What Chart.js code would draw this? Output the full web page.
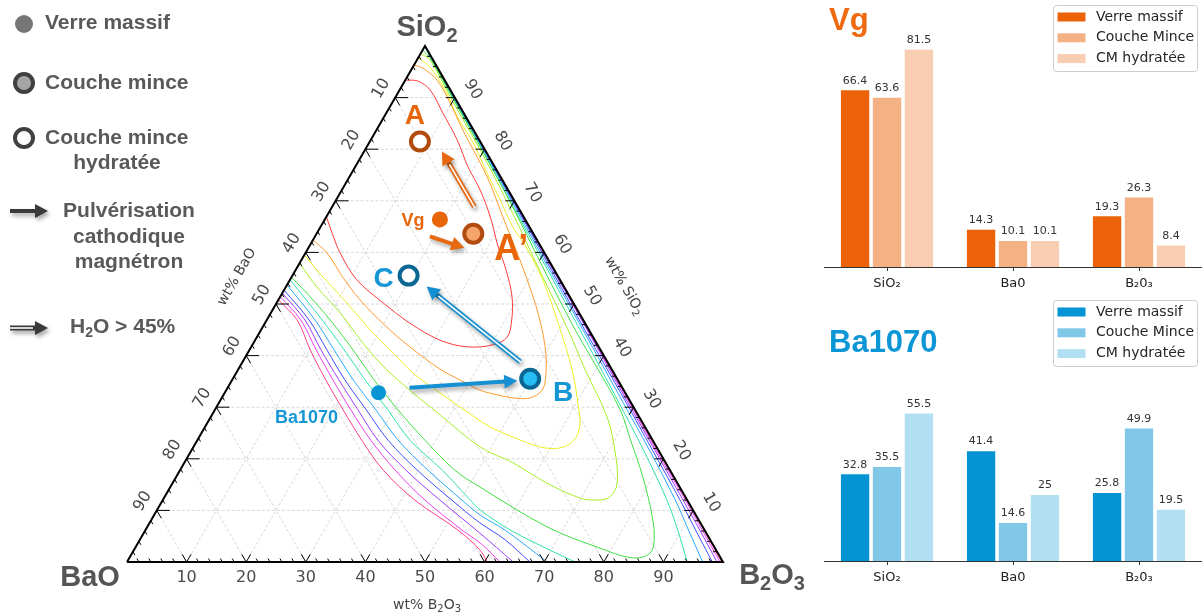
<!DOCTYPE html>
<html>
<head>
<meta charset="utf-8">
<title>Vg / Ba1070</title>
<script src="https://cdn.jsdelivr.net/npm/chart.js@4.4.1/dist/chart.umd.min.js"></script>
<style>
  html, body { margin: 0; padding: 0; background: #fff; }
  body { width: 1202px; height: 616px; position: relative; overflow: hidden; }
  canvas { position: absolute; }
  #ternary { left: 0; top: 0; }
  #barVg { left: 820px; top: 0; }
  #barBa { left: 820px; top: 300px; }
</style>
</head>
<body>
<canvas id="ternary" width="820" height="616"></canvas>
<canvas id="barVg" width="382" height="300"></canvas>
<canvas id="barBa" width="382" height="316"></canvas>
<script>
// ---- bar data (wt%) : SiO2, BaO, B2O3
const oxides = ['SiO₂', 'Ba0', 'B₂0₃'];
const seriesNames = ['Verre massif', 'Couche Mince', 'CM hydratée'];
const vgMassif = [66.4, 14.3, 19.3];
const vgMince = [63.6, 10.1, 26.3];
const vgHydr = [81.5, 10.1, 8.4];
const baMassif = [32.8, 41.4, 25.8];
const baMince = [35.5, 14.6, 49.9];
const baHydr = [55.5, 25, 19.5];

// ---- ternary ticks
const ternTicks = [10, 20, 30, 40, 50, 60, 70, 80, 90];

// ---- contour lines as [wt% B2O3, wt% SiO2]
const contourRed = [[0,93.4],[2.2,93.2],[5.1,91.5],[9.5,87],[14.5,81.8],[18.9,76.6],[23.2,72.1],[27.5,66.9],[31.5,61.4],[35.3,56.6],[38.9,51.4],[41.1,46.9],[42,43.6],[40.4,42.1],[36.2,41.7],[31,43],[24.3,46.3],[17.9,50.2],[11.2,54.7],[5.8,59.9],[2.5,63.8],[0,66.9]];
const contourOrange = [[0,96.3],[1.8,95.7],[5.3,93.4],[9.7,89],[14.5,83.7],[19.5,78.5],[24.2,73.4],[29.6,66.9],[34.6,61],[39.8,54.7],[44.8,48.3],[49.3,41.7],[52,36.6],[53,33.3],[51.7,31.8],[48.9,31.8],[45.9,32.4],[42.6,33.3],[38.2,35.3],[33.8,37.4],[26.6,41.7],[20.3,45.9],[13.7,50.8],[8.6,55.2],[3.6,59.9],[0,62.4]];
const contourYellow = [[0,97.7],[2.9,95.9],[7.6,91.5],[12.4,86.2],[17.5,81.2],[22.7,75.4],[27.5,70.2],[32.3,64.9],[36.1,61.4],[42.4,54.7],[50.2,45],[56.1,37.2],[60.5,30.4],[62.7,26.6],[63.2,23.6],[61.6,22.1],[58.2,22.3],[52.7,24.2],[47.8,26.2],[42.5,29.1],[36.1,32.8],[29.7,36.6],[24.4,40.5],[18.3,45],[11.8,50.2],[5.3,55.2],[0,59.5]];
const contourLime = [[0,98.5],[2.2,97.3],[9.8,89.5],[19.4,79.8],[28.5,70.2],[40.9,56.6],[51.5,45],[58.3,37.2],[66.5,28.1],[71,21.7],[74.6,15.3],[74.7,12.6],[72.9,12],[69.8,12.4],[62.8,15.3],[55.2,19.2],[48.1,22.3],[38.3,28.5],[30.8,33.3],[24.5,37.6],[18.4,42.4],[11.6,48.3],[5.2,53.3],[0,57.9]];
const contourGreen = [[0,99.2],[2.45,97.3],[10.1,89.5],[19.7,79.8],[29,70.2],[41.7,56.6],[52.7,45],[60.5,37.2],[68,29.5],[72.7,23.6],[78.3,16.5],[83.8,8.7],[86.3,4.3],[86.9,1.7],[84.4,0.8],[77.4,2.9],[67.1,6.8],[52,14.5],[46.1,17.8],[38.2,23.6],[30.7,29.5],[23.8,35.3],[19.6,39.1],[12.9,45],[5.8,50.8],[0,55.2]];
const tealLeft = [[0,54.7],[9.3,46.9],[15.9,41.1],[22.3,35.3],[29,29.5],[35.7,23.6],[44,17.8],[51.6,12],[54.2,10.1],[61.2,6.2],[69.8,2.3],[75.2,0]];
const skyLeft = [[0,53.7],[8.1,46.9],[14.2,41.1],[20.3,35.3],[27,29.5],[33.7,23.6],[41.6,17.8],[50.2,12],[54.7,9.1],[60.3,6.2],[70.5,0]];
const blueLeft = [[0,52.7],[7.1,46.9],[13,41.1],[18.9,35.3],[25.4,29.5],[32,23.6],[39.8,17.8],[48.5,12],[55.4,7.6],[61.3,4.3],[67.6,0]];
const violetLeft = [[0,52.1],[6.4,46.9],[12,41.1],[17.9,35.3],[24,29.5],[30.3,23.6],[37.9,17.8],[46.5,12],[56.4,5.6],[64.8,0]];
const magentaLeft = [[0,51.4],[5.7,46.9],[11.2,41.1],[16.9,35.3],[22.8,29.5],[29.1,23.6],[36.1,17.8],[44,12],[53.1,6.2],[57.4,3.7],[62.6,0]];
const pinkLeft = [[0,50.8],[5.1,46.9],[10.2,41.1],[15.7,35.3],[21.5,29.5],[27.6,23.6],[34.1,17.8],[42.3,12],[52.4,6.2],[58.1,2.3],[60.4,0]];
const tealRight = [[0,100],[2.45,97.3],[19.7,79.8],[38.5,60.5],[53.5,45],[66.6,31.4],[75.8,21.7],[84.6,12],[89.3,6.2],[94,0]];
const skyRight = [[0,100],[2.5,97.3],[19.9,79.8],[38.8,60.5],[54,45],[67.3,31.4],[76.8,21.7],[86,12],[91.1,6.2],[96.6,0]];
const blueRight = [[0,100],[2.6,97.3],[20,79.8],[39.1,60.5],[54.3,45],[67.8,31.4],[77.3,21.7],[86.8,12],[92.3,6.2],[98.2,0]];
const violetRight = [[0,100],[2.6,97.3],[20.1,79.8],[39.3,60.5],[54.7,45],[68.1,31.4],[77.7,21.7],[87.3,12],[93,6.2],[99,0]];
const magentaRight = [[0,100],[2.65,97.3],[20.1,79.8],[39.4,60.5],[54.8,45],[68.35,31.4],[77.95,21.7],[87.7,12],[93.4,6.2],[99.5,0]];
const pinkRight = [[0,100],[2.7,97.3],[20.2,79.8],[39.5,60.5],[54.9,45],[68.5,31.4],[78.2,21.7],[87.9,12],[93.7,6.2],[99.8,0]];

const contourLines = [
  ['#ff3b3b', contourRed], ['#ff9a2e', contourOrange], ['#eeee22', contourYellow],
  ['#a6ee2a', contourLime], ['#3fe03f', contourGreen],
  ['#2fe0b0', tealLeft], ['#2fe0b0', tealRight],
  ['#2aa8ff', skyLeft], ['#2aa8ff', skyRight],
  ['#3b4dff', blueLeft], ['#3b4dff', blueRight],
  ['#9a3bff', violetLeft], ['#9a3bff', violetRight],
  ['#f03cf0', magentaLeft], ['#f03cf0', magentaRight],
  ['#ff3c8c', pinkLeft], ['#ff3c8c', pinkRight]
];

const H = Math.sqrt(3) / 2;
function tern(b, s) { return { x: b + s / 2, y: s * H }; }
function toPts(arr) { return arr.map(p => tern(p[0], p[1])); }
function comp(v) { return tern(v[2], v[0]); } // v = [SiO2, BaO, B2O3]

const FAM = '"Liberation Sans", Arial, sans-serif';

// text with optional subscripts: parts = [[text, isSub], ...]
function rich(ctx, parts, x, y, size, opt) {
  ctx.save();
  ctx.translate(x, y);
  if (opt.rot) ctx.rotate(opt.rot);
  const fam = opt.family || FAM, wt = opt.weight || 'normal';
  const fBig = wt + ' ' + size + 'px ' + fam, fSmall = wt + ' ' + Math.round(size * 0.68) + 'px ' + fam;
  let w = 0;
  parts.forEach(p => { ctx.font = p[1] ? fSmall : fBig; w += ctx.measureText(p[0]).width; });
  let cx = opt.align === 'left' ? 0 : -w / 2;
  ctx.fillStyle = opt.color; ctx.textAlign = 'left'; ctx.textBaseline = 'middle';
  parts.forEach(p => {
    ctx.font = p[1] ? fSmall : fBig;
    ctx.fillText(p[0], cx, p[1] ? size * 0.3 : 0);
    cx += ctx.measureText(p[0]).width;
  });
  ctx.restore();
}

function arrow(ctx, x1, y1, x2, y2, color, dbl) {
  const a = Math.atan2(y2 - y1, x2 - x1), hl = 13, hw = 7;
  const ca = Math.cos(a), sa = Math.sin(a);
  const bx = x2 - hl * ca, by = y2 - hl * sa;
  ctx.save();
  ctx.shadowColor = 'rgba(0,0,0,0.35)'; ctx.shadowBlur = 4; ctx.shadowOffsetX = 2; ctx.shadowOffsetY = 3;
  ctx.strokeStyle = color; ctx.fillStyle = color;
  ctx.lineWidth = dbl ? 5 : 4; ctx.lineCap = 'butt';
  ctx.beginPath(); ctx.moveTo(x1, y1); ctx.lineTo(bx + ca, by + sa); ctx.stroke();
  ctx.beginPath(); ctx.moveTo(x2, y2);
  ctx.lineTo(bx + hw * sa, by - hw * ca); ctx.lineTo(bx - hw * sa, by + hw * ca);
  ctx.closePath(); ctx.fill();
  if (dbl) {
    ctx.shadowColor = 'transparent';
    ctx.strokeStyle = '#fff'; ctx.lineWidth = 1.6;
    ctx.beginPath(); ctx.moveTo(x1 - ca, y1 - sa); ctx.lineTo(bx - 2 * ca, by - 2 * sa); ctx.stroke();
  }
  ctx.restore();
}

function ring(ctx, x, y, fill, stroke) {
  ctx.beginPath(); ctx.arc(x, y, 9, 0, Math.PI * 2);
  ctx.fillStyle = fill; ctx.fill();
  ctx.lineWidth = 4; ctx.strokeStyle = stroke; ctx.stroke();
}

// ---------- ternary decorations
const ternDeco = {
  id: 'ternDeco',
  afterDraw(chart) {
    const ctx = chart.ctx;
    const sx = chart.scales.x, sy = chart.scales.y;
    const P = (b, s) => { const q = tern(b, s); return { x: sx.getPixelForValue(q.x), y: sy.getPixelForValue(q.y) }; };
    const C = v => P(v[2], v[0]);
    ctx.save();

    // ticks
    ctx.strokeStyle = '#000'; ctx.lineWidth = 1;
    const seg = (p, dx, dy, len) => { ctx.beginPath(); ctx.moveTo(p.x, p.y); ctx.lineTo(p.x + dx * len, p.y + dy * len); ctx.stroke(); };
    for (let v = 2; v < 100; v += 2) {
      const major = v % 10 === 0, L = major ? 9 : 4;
      const pb = P(v, 0), pl = P(0, 100 - v), pr = P(100 - v, v);
      seg(pb, -0.5, -H, L); if (major) seg(pb, 0.5, -H, L);
      seg(pl, 0.5, H, L); if (major) seg(pl, 1, 0, L + 4);
      seg(pr, -1, 0, L); if (major) seg(pr, -0.5, H, L);
    }

    // tick labels
    ternTicks.forEach(t => {
      const pb = P(t, 0), pl = P(0, 100 - t), pr = P(100 - t, t);
      rich(ctx, [[String(t)]], pb.x, pb.y + 16, 16, { family: '"DejaVu Sans"', color: '#4a4a4a' });
      rich(ctx, [[String(t)]], pl.x - 14, pl.y - 9, 16, { family: '"DejaVu Sans"', color: '#4a4a4a', rot: -Math.PI / 3 });
      rich(ctx, [[String(t)]], pr.x + 18, pr.y - 8, 16, { family: '"DejaVu Sans"', color: '#4a4a4a', rot: Math.PI / 3 });
    });

    // axis titles
    rich(ctx, [['wt% BaO']], 237, 277, 14, { family: '"DejaVu Sans"', color: '#444', rot: -Math.PI / 3 });
    rich(ctx, [['wt% SiO'], ['2', true]], 624, 286, 14, { family: '"DejaVu Sans"', color: '#444', rot: Math.PI / 3 });
    rich(ctx, [['wt% B'], ['2', true], ['O'], ['3', true]], 427, 605, 14, { family: '"DejaVu Sans"', color: '#444' });

    // corner labels
    rich(ctx, [['SiO'], ['2', true]], 427, 28, 29, { weight: 'bold', color: '#555' });
    rich(ctx, [['BaO']], 90, 578, 29, { weight: 'bold', color: '#555' });
    rich(ctx, [['B'], ['2', true], ['O'], ['3', true]], 772, 576, 29, { weight: 'bold', color: '#555' });

    // evolution arrows
    const pVg = C(vgMassif), pA2 = C(vgMince), pA = C(vgHydr);
    const pBa = C(baMassif), pB = C(baMince), pC = C(baHydr);
    arrow(ctx, pVg.x - 10, pVg.y + 17, pA2.x - 9, pA2.y + 14, '#e8680f', false);
    arrow(ctx, pA2.x + 1, pA2.y - 27, pA.x + 22, pA.y + 10, '#e8680f', true);
    arrow(ctx, pBa.x + 31, pBa.y - 5, pB.x - 13, pB.y + 2, '#1690d2', false);
    arrow(ctx, pB.x - 10, pB.y - 17, pC.x + 18, pC.y + 11, '#1690d2', true);

    // point labels
    rich(ctx, [['A']], pA.x - 5, pA.y - 25, 28, { weight: 'bold', color: '#e8650a' });
    rich(ctx, [['A’']], pA2.x + 38, pA2.y + 16, 36, { weight: 'bold', color: '#e8650a' });
    rich(ctx, [['Vg']], pVg.x - 27, pVg.y + 2, 18, { weight: 'bold', color: '#e8650a' });
    rich(ctx, [['C']], pC.x - 25, pC.y + 4, 28, { weight: 'bold', color: '#1596d6' });
    rich(ctx, [['B']], pB.x + 33, pB.y + 14, 28, { weight: 'bold', color: '#1596d6' });
    rich(ctx, [['Ba1070']], pBa.x - 72, pBa.y + 25, 18, { weight: 'bold', color: '#1596d6' });

    // left-hand legend
    const gray = '#595959';
    ctx.beginPath(); ctx.arc(24, 24, 9, 0, Math.PI * 2); ctx.fillStyle = '#767676'; ctx.fill();
    rich(ctx, [['Verre massif']], 45, 23, 21, { weight: 'bold', color: gray, align: 'left' });
    ring(ctx, 24, 83, '#a5a5a5', '#404040');
    rich(ctx, [['Couche mince']], 45, 83, 21, { weight: 'bold', color: gray, align: 'left' });
    ring(ctx, 24, 138, '#ffffff', '#404040');
    rich(ctx, [['Couche mince']], 45, 138, 21, { weight: 'bold', color: gray, align: 'left' });
    rich(ctx, [['hydratée']], 117, 163, 21, { weight: 'bold', color: gray });
    arrow(ctx, 10, 211, 48, 211, '#3a3a3a', false);
    rich(ctx, [['Pulvérisation']], 129, 211, 21, { weight: 'bold', color: gray });
    rich(ctx, [['cathodique']], 129, 237, 21, { weight: 'bold', color: gray });
    rich(ctx, [['magnétron']], 129, 262, 21, { weight: 'bold', color: gray });
    arrow(ctx, 10, 328, 48, 328, '#3a3a3a', true);
    rich(ctx, [['H'], ['2', true], ['O > 45%']], 70, 327, 21, { weight: 'bold', color: gray, align: 'left' });

    ctx.restore();
  }
};

// ---------- ternary datasets
function marker(v, r, fill, border, bw) {
  return {
    data: [comp(v)], showLine: false, pointRadius: r, pointHoverRadius: r,
    pointBackgroundColor: fill, pointBorderColor: border, pointBorderWidth: bw,
    order: 0, clip: false
  };
}

const ternSets = [];
ternSets.push(marker(vgMassif, 8, '#e8650a', '#e8650a', 0));
ternSets.push(marker(vgMince, 9, '#f5a46c', '#b14c0e', 4));
ternSets.push(marker(vgHydr, 9, '#ffffff', '#b14c0e', 4));
ternSets.push(marker(baMassif, 7.5, '#0795d5', '#0795d5', 0));
ternSets.push(marker(baMince, 9, '#26bdf2', '#0a6794', 4));
ternSets.push(marker(baHydr, 9, '#ffffff', '#0a6794', 4));

// triangle
ternSets.push({
  data: [tern(0, 0), tern(100, 0), tern(0, 100), tern(0, 0)], showLine: true,
  borderColor: '#000', borderWidth: 2, borderJoinStyle: 'miter', pointRadius: 0, tension: 0,
  order: 0.5, clip: false
});

contourLines.forEach(c => {
  ternSets.push({
    data: toPts(c[1]), showLine: true, borderColor: c[0], borderWidth: 1,
    pointRadius: 0, tension: 0.35, order: 1, clip: false
  });
});

ternTicks.forEach(t => {
  [[tern(0, t), tern(100 - t, t)], [tern(t, 0), tern(t, 100 - t)], [tern(100 - t, 0), tern(0, 100 - t)]].forEach(s => {
    ternSets.push({
      data: s, showLine: true, borderColor: '#cdcdcd', borderWidth: 0.8, borderDash: [3, 2],
      pointRadius: 0, tension: 0, order: 2, clip: false
    });
  });
});

new Chart(document.getElementById('ternary'), {
  type: 'scatter',
  data: { datasets: ternSets },
  options: {
    responsive: false, animation: false, events: [],
    layout: { padding: { left: 127, right: 97, top: 46, bottom: 54 } },
    scales: {
      x: { type: 'linear', min: 0, max: 100, display: false },
      y: { type: 'linear', min: 0, max: 100 * H, display: false }
    },
    plugins: { legend: { display: false }, tooltip: { enabled: false } }
  },
  plugins: [ternDeco]
});

// ---------- bar charts
const barDeco = {
  id: 'barDeco',
  afterDatasetsDraw(chart, args, opts) {
    const ctx = chart.ctx;
    ctx.save();
    ctx.font = '11px "DejaVu Sans"'; ctx.fillStyle = '#333';
    ctx.textAlign = 'center'; ctx.textBaseline = 'bottom';
    chart.data.datasets.forEach((ds, i) => {
      chart.getDatasetMeta(i).data.forEach((el, j) => ctx.fillText(String(ds.data[j]), el.x, el.y - 3));
    });
    // title
    ctx.font = 'bold 31px ' + FAM; ctx.fillStyle = opts.titleColor;
    ctx.textAlign = 'left'; ctx.textBaseline = 'alphabetic';
    ctx.fillText(opts.title, 9, opts.titleY);
    // legend
    const lx = 233, ly = opts.legendY, lw = 144, lh = 66;
    ctx.beginPath(); ctx.roundRect(lx + 0.5, ly + 0.5, lw, lh, 3);
    ctx.fillStyle = 'rgba(255,255,255,0.85)'; ctx.fill();
    ctx.strokeStyle = '#cccccc'; ctx.lineWidth = 1; ctx.stroke();
    ctx.font = '14px "DejaVu Sans"'; ctx.textBaseline = 'middle';
    chart.data.datasets.forEach((ds, i) => {
      const cy = ly + 12 + i * 20.8;
      ctx.fillStyle = ds.backgroundColor; ctx.fillRect(lx + 4.5, cy - 4.5, 28, 9);
      ctx.fillStyle = '#262626'; ctx.fillText(ds.label, lx + 43, cy);
    });
    ctx.restore();
  }
};

function makeBars(id, colors, series, deco, pad) {
  return new Chart(document.getElementById(id), {
    type: 'bar',
    data: {
      labels: oxides,
      datasets: series.map((d, i) => ({
        label: seriesNames[i], data: d, backgroundColor: colors[i],
        borderColor: '#ffffff', borderWidth: 1, borderSkipped: 'start',
        categoryPercentage: 0.76, barPercentage: 0.95
      }))
    },
    options: {
      responsive: false, animation: false, events: [],
      layout: { padding: pad },
      scales: {
        x: {
          grid: { display: true, drawOnChartArea: false, offset: false, tickLength: 4, color: '#333' },
          border: { display: true, color: '#333', width: 1 },
          ticks: { color: '#222', padding: 5, font: { family: 'DejaVu Sans', size: 13 } }
        },
        y: { display: false, min: 0, max: 90 }
      },
      plugins: { legend: { display: false }, tooltip: { enabled: false }, barDeco: deco }
    },
    plugins: [barDeco]
  });
}

makeBars('barVg', ['#eb6209', '#f4b183', '#f8cdb1'], [vgMassif, vgMince, vgHydr],
  { title: 'Vg', titleColor: '#ed6a10', titleY: 30, legendY: 5 },
  { left: 4, right: 0, top: 26, bottom: 3.4 });
makeBars('barBa', ['#0494d4', '#81c8e8', '#b2dff2'], [baMassif, baMince, baHydr],
  { title: 'Ba1070', titleColor: '#0d96d6', titleY: 52, legendY: 0 },
  { left: 4, right: 0, top: 20, bottom: 25.4 });
</script>
</body>
</html>
